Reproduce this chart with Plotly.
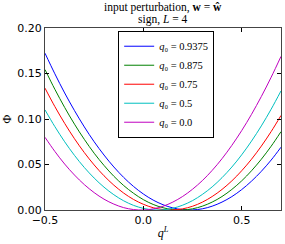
import plotly.graph_objects as go

q = [-0.5, -0.45, -0.4, -0.35, -0.3, -0.25, -0.2, -0.15, -0.1, -0.05, 0.0, 0.05, 0.1,
     0.15, 0.2, 0.25, 0.3, 0.35, 0.4, 0.45, 0.5, 0.55, 0.6, 0.65, 0.7]

phi_09375 = [0.1723, 0.1497, 0.1286, 0.1092, 0.0913, 0.0750, 0.0604, 0.0473, 0.0358, 0.0259,
             0.0176, 0.0109, 0.0058, 0.0023, 0.0004, 0.0001, 0.0013, 0.0042, 0.0087, 0.0147,
             0.0224, 0.0317, 0.0425, 0.0549, 0.0690]
phi_0875 = [0.1543, 0.1327, 0.1127, 0.0943, 0.0776, 0.0624, 0.0490, 0.0371, 0.0269, 0.0184,
            0.0114, 0.0061, 0.0025, 0.0004, 0.0001, 0.0013, 0.0042, 0.0087, 0.0148, 0.0226,
            0.0320, 0.0431, 0.0558, 0.0701, 0.0861]
phi_075 = [0.1339, 0.1137, 0.0952, 0.0783, 0.0631, 0.0495, 0.0376, 0.0273, 0.0186, 0.0116,
           0.0063, 0.0025, 0.0005, 0.0000, 0.0013, 0.0041, 0.0086, 0.0148, 0.0226, 0.0320,
           0.0431, 0.0558, 0.0702, 0.0862, 0.1039]
phi_05 = [0.1100, 0.0917, 0.0750, 0.0600, 0.0467, 0.0351, 0.0251, 0.0168, 0.0101, 0.0051,
          0.0018, 0.0002, 0.0002, 0.0019, 0.0053, 0.0103, 0.0171, 0.0254, 0.0355, 0.0472,
          0.0606, 0.0757, 0.0924, 0.1108, 0.1309]
phi_00 = [0.0799, 0.0644, 0.0505, 0.0384, 0.0279, 0.0191, 0.0119, 0.0065, 0.0026, 0.0005,
          0.0000, 0.0012, 0.0041, 0.0087, 0.0149, 0.0228, 0.0323, 0.0435, 0.0564, 0.0710,
          0.0872, 0.1051, 0.1247, 0.1459, 0.1688]

labels = ["0.9375", "0.875", "0.75", "0.5", "0.0"]
series = [phi_09375, phi_0875, phi_075, phi_05, phi_00]
colors = ["#0000ff", "#008000", "#ff0000", "#00bfbf", "#bf00bf"]

x_tickvals = [-0.5, 0.0, 0.5]
x_ticktext = ["\u22120.5", "0.0", "0.5"]
y_tickvals = [0.0, 0.05, 0.10, 0.15, 0.20]
y_ticktext = ["0.00", "0.05", "0.10", "0.15", "0.20"]

fig = go.Figure()
for lab, ys, col in zip(labels, series, colors):
    fig.add_trace(go.Scatter(
        x=q, y=ys, mode="lines", name=f"<i>q</i>\u2080 = {lab}",
        line=dict(color=col, width=1, shape="spline"),
    ))

lserif = "Liberation Serif"
sans = "DejaVu Sans"

fig.update_layout(
    width=285, height=244,
    margin=dict(l=45, r=4, t=28, b=34, autoexpand=False),
    paper_bgcolor="white", plot_bgcolor="white",
    showlegend=True,
    legend=dict(
        x=0.31, y=0.985, xanchor="left", yanchor="top",
        bgcolor="white", bordercolor="black", borderwidth=1,
        font=dict(family=lserif, size=10.5, color="black"),
        tracegroupgap=0, itemwidth=30,
    ),
    annotations=[
        dict(text="input perturbation, <b>w</b> = <b>\u0175</b>", x=0.5, y=1,
             xref="paper", yref="paper", yanchor="bottom", yshift=12, showarrow=False,
             font=dict(family=lserif, size=11.5, color="black")),
        dict(text="sign, <i>L</i> = 4", x=0.5, y=1,
             xref="paper", yref="paper", yanchor="bottom", yshift=0, showarrow=False,
             font=dict(family=lserif, size=11.5, color="black")),
    ],
)

fig.update_xaxes(
    range=[-0.5, 0.7], tickvals=x_tickvals, ticktext=x_ticktext, automargin=False,
    ticks="inside", ticklen=4, tickcolor="black", mirror="ticks",
    showline=True, linecolor="#444", linewidth=1, showgrid=False, zeroline=False,
    tickfont=dict(family=sans, size=11, color="black"),
    title=dict(text="<i>q</i><sup><i>L</i></sup>", font=dict(family=lserif, size=12, color="black"), standoff=2),
)
fig.update_yaxes(
    range=[0, 0.20], tickvals=y_tickvals, ticktext=y_ticktext, automargin=False,
    ticks="inside", ticklen=4, tickcolor="black", mirror="ticks",
    showline=True, linecolor="#444", linewidth=1, showgrid=False, zeroline=False,
    tickfont=dict(family=sans, size=11, color="black"),
    title=dict(text="\u03a6", font=dict(family=lserif, size=12, color="black"), standoff=6),
)

fig.write_html("out.html", config={"displayModeBar": False},
               post_script="document.body.style.margin='0px';")
